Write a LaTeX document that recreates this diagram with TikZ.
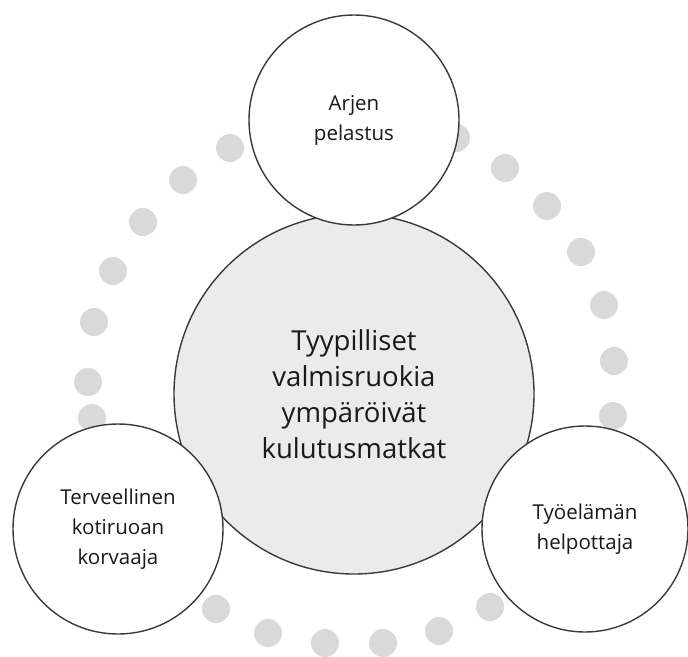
\documentclass[tikz,border=0pt]{standalone}
\usepackage{fontspec}
\setmainfont{Open Sans}
\definecolor{dotgray}{HTML}{D9D9D9}
\definecolor{hubfill}{HTML}{EBEBEB}
\definecolor{edgegray}{HTML}{3A3A3A}
\begin{document}
\begin{tikzpicture}[x=1pt,y=-1pt,
  ringdot/.style={fill=dotgray, draw=none},
  bubble/.style={circle, draw=edgegray, line width=1.4pt, fill=white,
    inner sep=0pt, outer sep=0pt, align=center, text=black!90,
    font=\fontsize{20.5}{30}\selectfont},
  hub/.style={bubble, fill=hubfill, minimum size=360pt,
    font=\fontsize{27.5}{36}\selectfont}]
\useasboundingbox (0,0) rectangle (688,656);

% dotted ring behind the circles
\foreach \px/\py in {230/148, 183/180, 143/222, 113/271, 94/322, 88/382, 92/418,
  456/138, 505/168, 547/206, 581/252, 604/305, 614/361, 613/416,
  216/609, 268/633, 325/643, 383/643, 439/631, 490/607}
  \fill[ringdot] (\px,\py) circle (14pt);

% central theme
\node[hub] (hub) at (354,394) {Tyypilliset\\valmisruokia\\ympäröivät\\kulutusmatkat};

% surrounding themes
\node[bubble, minimum size=210pt] (top) at (354,120) {Arjen\\pelastus};
\node[bubble, minimum size=210pt] (left) at (118,529) {Terveellinen\\kotiruoan\\korvaaja};
\node[bubble, minimum size=206pt] (right) at (585,529) {Työelämän\\helpottaja};
\end{tikzpicture}
\end{document}
